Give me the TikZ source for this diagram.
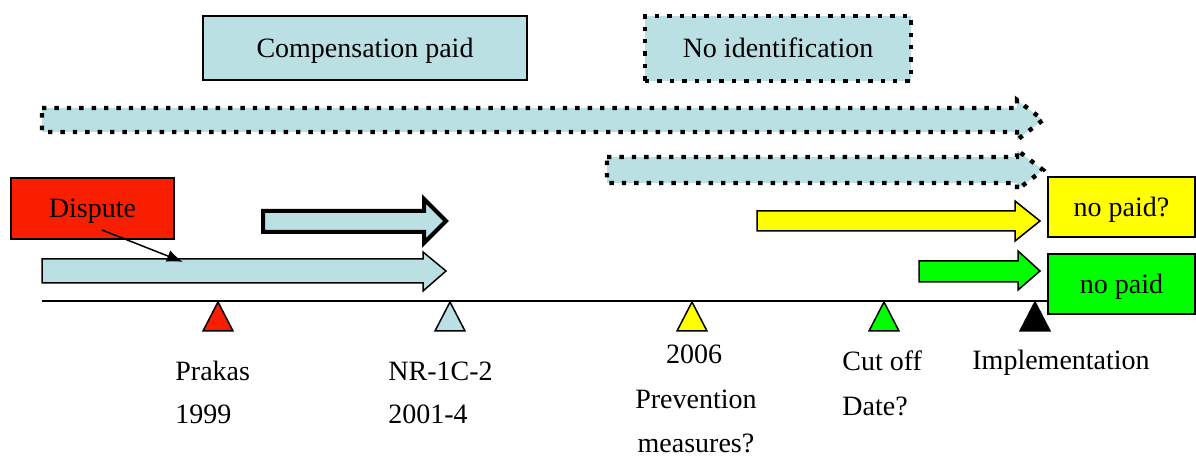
\documentclass[tikz,border=0pt]{standalone}
\usepackage{fontspec}
\setmainfont{Liberation Serif}
\usetikzlibrary{arrows.meta}
\definecolor{paleblue}{HTML}{BAE0E4}
\definecolor{dispred}{HTML}{FA1E00}
\definecolor{ylw}{HTML}{FFFF00}
\definecolor{grn}{HTML}{00FF00}
\tikzset{
  boxtext/.style={inner sep=0pt, text height=11pt, text depth=1.5pt, font=\fontsize{14}{17}\selectfont},
  box/.style={boxtext, draw=black, line width=0.75pt},
  dotbox/.style={boxtext, draw=black, line width=2.2pt, dash pattern=on 2.2pt off 4pt},
  blockarrow/.style={draw=black, line width=0.75pt, line join=miter},
  dotarrow/.style={draw=black, line width=2.2pt, dash pattern=on 2.2pt off 4pt},
  marker/.style={draw=black, line width=0.75pt, line join=miter},
  lbl/.style={inner sep=0pt, font=\fontsize{14}{17}\selectfont},
}
\begin{document}
\begin{tikzpicture}[x=0.5pt, y=-0.5pt]
\useasboundingbox (0,0) rectangle (1196,459);

% header boxes
\node[box, fill=paleblue, minimum width=162pt, minimum height=32pt] (comp) at (365,48) {Compensation paid};
\node[dotbox, fill=paleblue, minimum width=133pt, minimum height=32.5pt] (noid) at (778,48.5) {No identification};

% long dotted block arrows
\path[fill=paleblue] (42,108) -- (1017,108) -- (1017,100) -- (1043,120) -- (1017,140) -- (1017,132) -- (42,132) -- cycle;
\draw[dotarrow] (42,108) -- (1017,108) -- (1017,100) -- (1043,120) -- (1017,140) -- (1017,132) -- (42,132) -- cycle;
\path[fill=paleblue] (607,157) -- (1017,157) -- (1017,150) -- (1043,170) -- (1017,190) -- (1017,183) -- (607,183) -- cycle;
\draw[dotarrow] (607,157) -- (1017,157) -- (1017,150) -- (1043,170) -- (1017,190) -- (1017,183) -- (607,183) -- cycle;

% solid block arrows
\draw[blockarrow, fill=paleblue, line width=2pt] (263,211) -- (424,211) -- (424,199) -- (446,221) -- (424,243) -- (424,232) -- (263,232) -- cycle;
\draw[blockarrow, fill=paleblue] (42,259) -- (423,259) -- (423,252) -- (446,271) -- (423,291) -- (423,283) -- (42,283) -- cycle;
\draw[blockarrow, fill=ylw] (757,211) -- (1015,211) -- (1015,201) -- (1040,221) -- (1015,241) -- (1015,231) -- (757,231) -- cycle;
\draw[blockarrow, fill=grn] (919,261) -- (1018,261) -- (1018,251) -- (1040,271) -- (1018,290) -- (1018,282) -- (919,282) -- cycle;

% dispute label and its pointer
\node[box, fill=dispred, minimum width=81.5pt, minimum height=30.5pt] (dispute) at (92.5,208.5) {Dispute};
\coordinate (dispfrom) at (102,230);
\coordinate (dispto) at (183,262);
\draw[line width=0.75pt, -{Latex[length=8pt, width=6pt]}] (dispfrom) -- (dispto);

% outcome boxes
\node[box, fill=ylw, minimum width=73.5pt, minimum height=30pt] (nopaidq) at (1121.5,207) {no paid?};
\node[box, fill=grn, minimum width=73.5pt, minimum height=30pt] (nopaid) at (1121.5,284) {no paid};

% time axis
\coordinate (axisstart) at (42,301);
\draw[line width=0.75pt] (axisstart) -- (axisstart -| nopaid.west);

% milestone markers
\draw[marker, fill=dispred] (218,302) -- (233,331) -- (203,331) -- cycle;
\draw[marker, fill=paleblue] (450,302) -- (465,331) -- (435,331) -- cycle;
\draw[marker, fill=ylw] (692,302) -- (707,331) -- (677,331) -- cycle;
\draw[marker, fill=grn] (884,302) -- (899,331) -- (869,331) -- cycle;
\draw[marker, fill=black] (1035,302) -- (1050,331) -- (1020,331) -- cycle;

% milestone captions
\node[lbl, anchor=base west] (prakas) at (175,381) {Prakas};
\node[lbl, anchor=base west] (y1999) at (175,424) {1999};
\node[lbl, anchor=base west] (nr) at (388,381) {NR-1C-2};
\node[lbl, anchor=base west] (y2001) at (388,424) {2001-4};
\node[lbl, anchor=base] (y2006) at (694,364) {2006};
\node[lbl, anchor=base] (prev) at (696,409) {Prevention};
\node[lbl, anchor=base] (meas) at (696,453) {measures?};
\node[lbl, anchor=base west] (cut) at (842,371) {Cut off};
\node[lbl, anchor=base west] (date) at (842,416) {Date?};
\node[lbl, anchor=base west] (impl) at (972,370) {Implementation};
\end{tikzpicture}
\end{document}
